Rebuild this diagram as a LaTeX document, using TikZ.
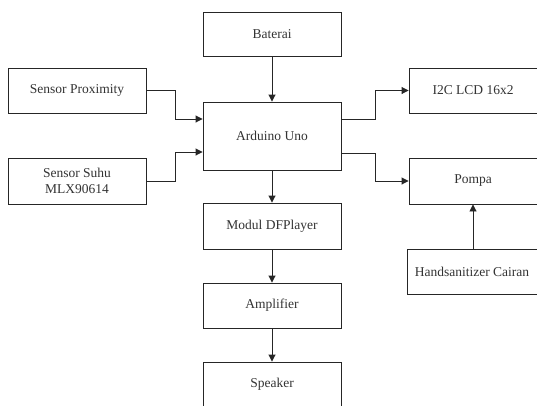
\documentclass[tikz,border=0pt]{standalone}
\usepackage{fontspec}
\setmainfont{Liberation Serif}
\usetikzlibrary{arrows.meta}
\begin{document}
\begin{tikzpicture}[x=1pt,y=-1pt,
  blk/.style={draw=black!85,line width=0.9pt,fill=white,inner sep=0pt,align=center,
    text=black!80,font=\fontsize{13.5}{16.5}\selectfont},
  arr/.style={draw=black!85,line width=0.9pt,-{Triangle[length=7pt,width=7pt]}}]
\clip (0,0) rectangle (537,405);
\fill[white] (0,0) rectangle (537,405);
% boxes
\node[blk,minimum width=138pt,minimum height=44pt] (bat) at (272,34) {Baterai};
\node[blk,minimum width=138pt,minimum height=45pt] (prox) at (77,90.5) {Sensor Proximity};
\node[blk,minimum width=138pt,minimum height=68pt] (ard) at (272,136) {Arduino Uno};
\node[blk,minimum width=138pt,minimum height=46pt] (suhu) at (77,181) {Sensor Suhu\\MLX90614};
\node[blk,minimum width=128pt,minimum height=45pt] (lcd) at (473,90.5) {I2C LCD 16x2};
\node[blk,minimum width=128pt,minimum height=46pt] (pompa) at (473,181) {Pompa};
\node[blk,minimum width=130pt,minimum height=45pt] (hand) at (472,271.5) {Handsanitizer Cairan};
\node[blk,minimum width=138pt,minimum height=46pt] (df) at (272,226) {Modul DFPlayer};
\node[blk,minimum width=138pt,minimum height=45pt] (amp) at (272,305.5) {Amplifier};
\node[blk,minimum width=138pt,minimum height=45pt] (spk) at (272,384.5) {Speaker};
% connectors
\draw[arr] (bat) -- (ard);
\draw[arr] (prox.east) -- ++(29,0) |- ([yshift=17pt]ard.west);
\draw[arr] (suhu.east) -- ++(29,0) |- ([yshift=-16pt]ard.west);
\draw[arr] ([yshift=17pt]ard.east) -- ++(34,0) |- (lcd.west);
\draw[arr] ([yshift=-17pt]ard.east) -- ++(34,0) |- (pompa.west);
\draw[arr] (hand.north -| pompa.south) -- (pompa.south);
\draw[arr] (ard) -- (df);
\draw[arr] (df) -- (amp);
\draw[arr] (amp) -- (spk);
\end{tikzpicture}
\end{document}
